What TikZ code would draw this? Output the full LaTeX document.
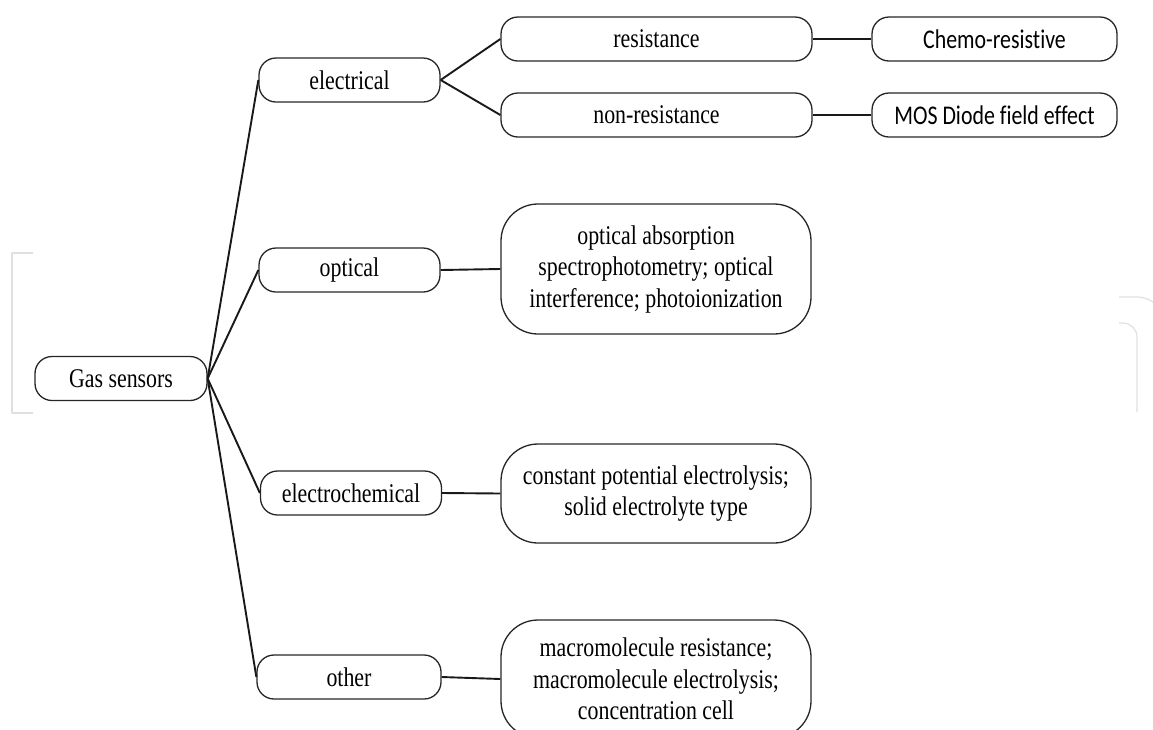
\documentclass[tikz,border=0pt]{standalone}
\usepackage{fontspec}
\setmainfont[FakeStretch=0.81]{Liberation Serif}
\newfontfamily\calib[FakeStretch=0.81,Ligatures=NoCommon]{Carlito}
\begin{document}
\begin{tikzpicture}[x=1pt,y=-1pt,line join=round,
  box/.style={draw=black!85, line width=1.3pt, rounded corners=17pt,
    minimum height=44pt, inner sep=0pt, font=\fontsize{27}{31}\selectfont},
  sbox/.style={box, font=\calib\fontsize{27}{31}\selectfont},
  det/.style={draw=black!85, line width=1.3pt, rounded corners=37pt,
    inner sep=0pt, align=center, minimum width=310pt,
    font=\fontsize{27}{31.5}\selectfont},
  link/.style={line width=1.9pt, draw=black!90},
  wmark/.style={draw=black!12, line width=1.2pt}]
\useasboundingbox (0,0) rectangle (1153,729);
% faint watermark
\draw[wmark] (33,253) -- (12,253) -- (12,413) -- (33,413);
\draw[wmark, rounded corners=28pt] (1119,297) -- (1165,297) -- (1165,440);
\draw[wmark, rounded corners=14pt] (1119,323) -- (1137,323) -- (1137,412);
% nodes
\node[box, minimum width=172pt] (gas) at (121,378.5) {Gas sensors};
\node[box, minimum width=181pt] (ele) at (349.5,80) {electrical};
\node[box, minimum width=181pt] (opt) at (349.5,270) {optical};
\node[box, minimum width=181pt] (ech) at (351,493) {electrochemical};
\node[box, minimum width=184pt] (oth) at (349,677) {other};
\node[box, minimum width=311pt] (res) at (656.5,39) {resistance};
\node[box, minimum width=311pt] (nres) at (656.5,115) {non-resistance};
\node[sbox, minimum width=245pt] (chem) at (994.5,39) {Chemo-resistive};
\node[sbox, minimum width=245pt] (mos) at (994.5,115) {MOS Diode field effect};
\node[det, minimum height=130pt] (optd) at (656,269) {optical absorption\\spectrophotometry; optical\\interference; photoionization};
\node[det, minimum height=99pt] (echd) at (656,493.5) {constant potential electrolysis;\\solid electrolyte type};
\node[det, minimum height=118pt] (othd) at (656,679) {macromolecule resistance;\\macromolecule electrolysis;\\concentration cell};
% connectors
\draw[link] (gas.east) -- (ele.west);
\draw[link] (gas.east) -- (opt.west);
\draw[link] (gas.east) -- (ech.west);
\draw[link] (gas.east) -- (oth.west);
\draw[link] (ele.east) -- (res.west);
\draw[link] (ele.east) -- (nres.west);
\draw[link] (res.east) -- (chem.west);
\draw[link] (nres.east) -- (mos.west);
\draw[link] (opt.east) -- (optd.west);
\draw[link] (ech.east) -- (echd.west);
\draw[link] (oth.east) -- (othd.west);
\end{tikzpicture}
\end{document}
